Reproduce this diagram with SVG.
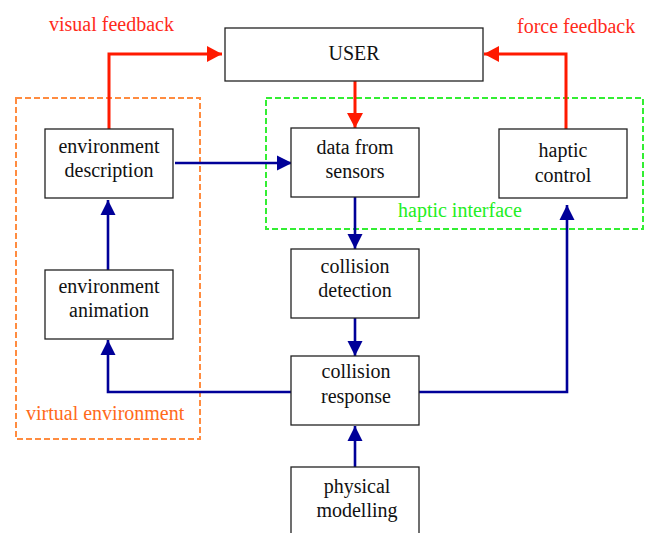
<svg xmlns="http://www.w3.org/2000/svg" width="651" height="533" viewBox="0 0 651 533">
<style>
.box{fill:#fff;stroke:#222;stroke-width:1.3}
.t{font-family:'Liberation Serif','DejaVu Serif',serif;font-size:20px;fill:#111;text-anchor:middle}
.lbl{font-family:'Liberation Serif','DejaVu Serif',serif;font-size:20px}
.red{fill:none;stroke:#ff1a00;stroke-width:3}
.blue{fill:none;stroke:#000099;stroke-width:2.6}
</style>
<defs>
<marker id="ar" markerUnits="userSpaceOnUse" markerWidth="16" markerHeight="16" refX="15" refY="8" orient="auto">
<path d="M0,0 L15,8 L0,16 z" fill="#ff1a00"/>
</marker>
<marker id="ab" markerUnits="userSpaceOnUse" markerWidth="16" markerHeight="16" refX="15" refY="8" orient="auto">
<path d="M0,0.5 L15,8 L0,15.5 z" fill="#000099"/>
</marker>
</defs>
<rect width="651" height="533" fill="#fff"/>
<g id="groups">
<rect x="16" y="98" width="184" height="341" fill="none" stroke="#ff8c40" stroke-width="2" stroke-dasharray="6,3"/>
<text class="lbl" x="26" y="420" fill="#ff6a1a">virtual environment</text>
<rect x="266" y="98" width="377" height="131" fill="none" stroke="#33ee33" stroke-width="2" stroke-dasharray="6,3"/>
<text class="lbl" x="398" y="217" fill="#22ee22">haptic interface</text>
</g>
<g id="connectors">
<path class="red" d="M109,129 V54 H222" marker-end="url(#ar)"/>
<path class="red" d="M566,129 V54 H484" marker-end="url(#ar)"/>
<path class="red" d="M355,81 V128" marker-end="url(#ar)"/>
<path class="blue" d="M175,163 H292" marker-end="url(#ab)"/>
<path class="blue" d="M108,270 V200" marker-end="url(#ab)"/>
<path class="blue" d="M355,197 V249" marker-end="url(#ab)"/>
<path class="blue" d="M355,318 V356" marker-end="url(#ab)"/>
<path class="blue" d="M291,392 H108 V340" marker-end="url(#ab)"/>
<path class="blue" d="M419,392 H567 V205" marker-end="url(#ab)"/>
<path class="blue" d="M355,467 V426" marker-end="url(#ab)"/>
<text class="lbl" x="49" y="31" fill="#ff2a1a">visual feedback</text>
<text class="lbl" x="517" y="33" fill="#ff2a1a">force feedback</text>
</g>
<g id="user"><rect class="box" x="225" y="28" width="258" height="53"/><text class="t" x="354" y="60">USER</text></g>
<g id="envdesc"><rect class="box" x="45" y="129" width="128" height="69"/><text class="t" x="109" y="153">environment</text><text class="t" x="109" y="177">description</text></g>
<g id="envanim"><rect class="box" x="45" y="270" width="128" height="69"/><text class="t" x="109" y="293">environment</text><text class="t" x="109" y="317">animation</text></g>
<g id="sensors"><rect class="box" x="291" y="128" width="128" height="69"/><text class="t" x="355" y="154">data from</text><text class="t" x="355" y="178">sensors</text></g>
<g id="haptic"><rect class="box" x="499" y="129" width="128" height="69"/><text class="t" x="563" y="157">haptic</text><text class="t" x="563" y="182">control</text></g>
<g id="detection"><rect class="box" x="291" y="249" width="128" height="69"/><text class="t" x="355" y="273">collision</text><text class="t" x="355" y="297">detection</text></g>
<g id="response"><rect class="box" x="291" y="356" width="128" height="69"/><text class="t" x="356" y="378">collision</text><text class="t" x="356" y="403">response</text></g>
<g id="physical"><rect class="box" x="291" y="467" width="128" height="69"/><text class="t" x="357" y="493">physical</text><text class="t" x="357" y="517">modelling</text></g>
</svg>
